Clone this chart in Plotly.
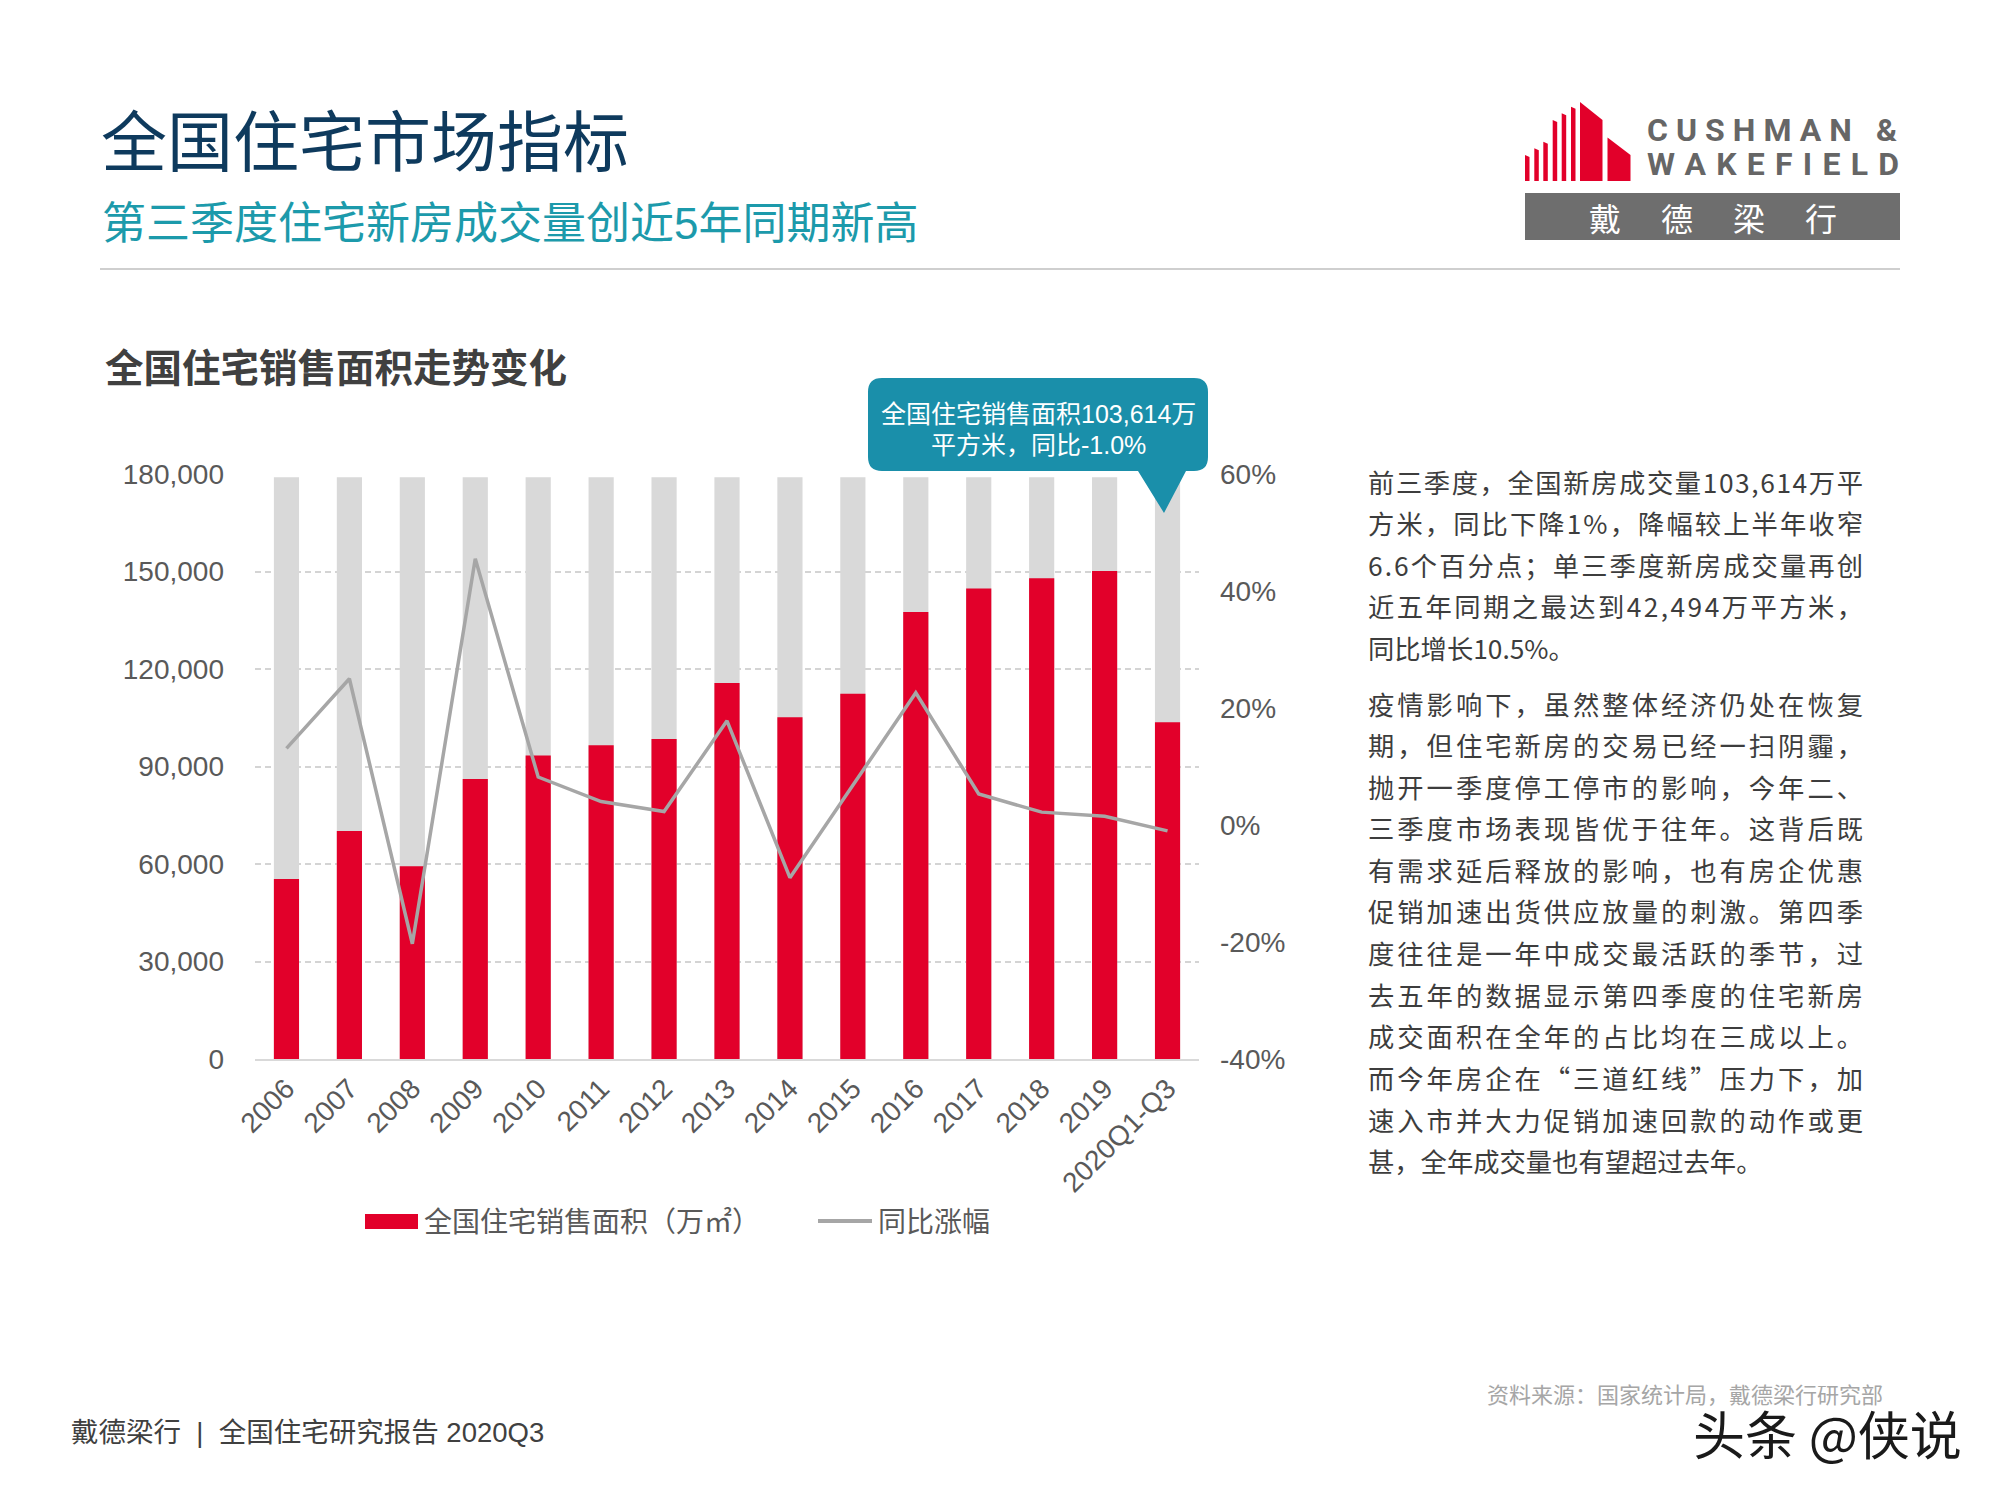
import json
import plotly.graph_objects as go

W, H = 2000, 1500

# ---------------- data ----------------
categories = ["2006", "2007", "2008", "2009", "2010", "2011", "2012", "2013",
              "2014", "2015", "2016", "2017", "2018", "2019", "2020Q1-Q3"]
sales_area = [55423, 70136, 59280, 86185, 93377, 96528, 98468, 115723,
              105188, 112412, 137540, 144789, 147929, 150144, 103614]
yoy_pct = [13.1, 25.0, -20.3, 45.5, 8.2, 4.0, 2.3, 17.8,
           -9.0, 6.9, 22.6, 5.3, 2.2, 1.5, -1.0]
track_level = [179000, 179000, 179000, 179000, 179000, 179000, 179000, 179000,
               179000, 179000, 179000, 179000, 179000, 179000, 179000]

left_tickvals = [0, 30000, 60000, 90000, 120000, 150000, 180000]
left_ticktext = ["0", "30,000", "60,000", "90,000", "120,000", "150,000", "180,000"]
right_tickvals = [-40, -20, 0, 20, 40, 60]
right_ticktext = ["-40%", "-20%", "0%", "20%", "40%", "60%"]

series_bar_name = "全国住宅销售面积（万㎡）"
series_line_name = "同比涨幅"

title_text = "全国住宅市场指标"
subtitle_text = "第三季度住宅新房成交量创近5年同期新高"
chart_title = "全国住宅销售面积走势变化"
callout_lines = ["全国住宅销售面积103,614万", "平方米，同比-1.0%"]
para1 = ["前三季度，全国新房成交量103,614万平",
         "方米，同比下降1%，降幅较上半年收窄",
         "6.6个百分点；单三季度新房成交量再创",
         "近五年同期之最达到42,494万平方米，",
         "同比增长10.5%。"]
para2 = ["疫情影响下，虽然整体经济仍处在恢复",
         "期，但住宅新房的交易已经一扫阴霾，",
         "抛开一季度停工停市的影响，今年二、",
         "三季度市场表现皆优于往年。这背后既",
         "有需求延后释放的影响，也有房企优惠",
         "促销加速出货供应放量的刺激。第四季",
         "度往往是一年中成交最活跃的季节，过",
         "去五年的数据显示第四季度的住宅新房",
         "成交面积在全年的占比均在三成以上。",
         "而今年房企在“三道红线”压力下，加",
         "速入市并大力促销加速回款的动作或更",
         "甚，全年成交量也有望超过去年。"]
footer_left = "戴德梁行  |  全国住宅研究报告 2020Q3"
source_text = "资料来源：国家统计局，戴德梁行研究部"
watermark = "头条 @侠说"

# ---------------- styles ----------------
RED = "#E2002A"
TRACK = "#D9D9D9"
LINE = "#A6A6A6"
TEAL = "#1A8FAA"
FONT = "Liberation Sans, Noto Sans CJK SC, sans-serif"
CJK = "Noto Sans CJK SC, sans-serif"
AXIS_TXT = "#595959"


def px(x):
    return x / W


def py(y):
    return 1 - y / H


def P(x, y):
    return f"{px(x):.5f},{py(y):.5f}"


fig = go.Figure()
fig.add_trace(go.Bar(x=categories, y=track_level, marker=dict(color=TRACK, line=dict(width=0)),
                     width=0.4, showlegend=False, hoverinfo="skip"))
fig.add_trace(go.Bar(x=categories, y=sales_area, name=series_bar_name,
                     marker=dict(color=RED, line=dict(width=0)), width=0.4, showlegend=False))
fig.add_trace(go.Scatter(x=categories, y=yoy_pct, yaxis="y2", mode="lines", name=series_line_name,
                         line=dict(color=LINE, width=3.5), showlegend=False))

x0, x1 = 255, 1199
ytop, ybot = 474, 1059

fig.update_layout(
    width=W, height=H, autosize=False, margin=dict(l=0, r=0, t=0, b=0, pad=0, autoexpand=False),
    paper_bgcolor="white", plot_bgcolor="white",
    barmode="overlay", showlegend=False,
    font=dict(family=FONT, color=AXIS_TXT),
    xaxis=dict(domain=[px(x0), px(x1)], type="category", range=[-0.5, 14.5],
               tickangle=-45, tickfont=dict(size=28, color=AXIS_TXT, family=FONT),
               showline=True, linecolor="#D9D9D9", linewidth=2, ticks="",
               showgrid=False, zeroline=False, fixedrange=True, automargin=False),
    yaxis=dict(domain=[py(ybot), py(ytop)], range=[0, 180000],
               tickvals=left_tickvals, ticktext=left_ticktext,
               tickfont=dict(size=28, color=AXIS_TXT, family=FONT),
               showgrid=True, gridcolor="#D4D4D4", griddash="6px,4px", gridwidth=2,
               zeroline=False, ticks="", ticklabelstandoff=30, fixedrange=True,
               automargin=False),
    yaxis2=dict(overlaying="y", side="right", range=[-40, 60],
                tickvals=right_tickvals, ticktext=right_ticktext,
                tickfont=dict(size=28, color=AXIS_TXT, family=FONT),
                showgrid=False, zeroline=False, ticks="", ticklabelstandoff=20,
                fixedrange=True, automargin=False),
)

shapes = []
annotations = []
justify = {}


def ann(text, x, y, size, color, xanchor="left", family=FONT, target=None, **kw):
    idx = len(annotations)
    annotations.append(dict(text=text, x=px(x), y=py(y), xref="paper", yref="paper",
                            xanchor=xanchor, yanchor="middle", showarrow=False,
                            align="left" if xanchor == "left" else "center",
                            borderpad=0,
                            font=dict(size=size, color=color, family=family), **kw))
    if target is not None:
        justify[str(idx)] = target


# ---- paragraphs (justified) ----
PL, PR = 1367, 1862
for k, line in enumerate(para1):
    ann(line, PL, 481 + k * 41.5, 26.3, "#3D3D3D", family=CJK,
        target=(PR - PL) if k < len(para1) - 1 else None)
for k, line in enumerate(para2):
    ann(line, PL, 703 + k * 41.6, 26.3, "#3D3D3D", family=CJK,
        target=(PR - PL) if k < len(para2) - 1 else None)

# ---- titles ----
ann(title_text, 100, 137, 66, "#0E3A5D", family=CJK)
ann(subtitle_text, 101, 224, 44, "#1C9AAB", family=FONT)
ann("<b>" + chart_title + "</b>", 104, 365, 38.5, "#404040", family=CJK)
shapes.append(dict(type="line", xref="paper", yref="paper", x0=px(100), x1=px(1900),
                   y0=py(269), y1=py(269), line=dict(color="#CFCFCF", width=2)))

# ---- callout ----
bl, br, bt, bb, r = 868, 1208, 378, 471, 14
tip_x, tip_y = 1164, 513
path = (f"M{P(bl + r, bt)} L{P(br - r, bt)} Q{P(br, bt)} {P(br, bt + r)} "
        f"L{P(br, bb - r)} Q{P(br, bb)} {P(br - r, bb)} "
        f"L{P(1186, bb)} L{P(tip_x, tip_y)} L{P(1138, bb)} "
        f"L{P(bl + r, bb)} Q{P(bl, bb)} {P(bl, bb - r)} "
        f"L{P(bl, bt + r)} Q{P(bl, bt)} {P(bl + r, bt)} Z")
shapes.append(dict(type="path", xref="paper", yref="paper", path=path,
                   fillcolor=TEAL, line=dict(width=0), layer="above"))
ann(callout_lines[0], 1038, 414, 25, "white", xanchor="center")
ann(callout_lines[1], 1038, 445, 25, "white", xanchor="center")

# ---- custom legend ----
shapes.append(dict(type="rect", xref="paper", yref="paper", x0=px(365), x1=px(418),
                   y0=py(1229), y1=py(1214), fillcolor=RED, line=dict(width=0)))
ann(series_bar_name, 423, 1222, 28, AXIS_TXT)
shapes.append(dict(type="line", xref="paper", yref="paper", x0=px(818), x1=px(872),
                   y0=py(1221), y1=py(1221), line=dict(color=LINE, width=4)))
ann(series_line_name, 877, 1222, 28, AXIS_TXT)

# ---- logo ----
logo_bars = [(1525, 1529.5, 155), (1534.3, 1538.8, 148.3), (1543.3, 1547.8, 141.7),
             (1552.7, 1557.2, 120), (1561.7, 1566.2, 113.3), (1571, 1575.5, 106.7)]
for a, b, t in logo_bars:
    shapes.append(dict(type="path", xref="paper", yref="paper",
                       path=f"M{P(a, 181)} L{P(a, t)} L{P(b, t + 2)} L{P(b, 181)} Z",
                       fillcolor=RED, line=dict(width=0)))
shapes.append(dict(type="path", xref="paper", yref="paper",
                   path=f"M{P(1580, 181)} L{P(1580, 102)} L{P(1602.5, 120)} L{P(1602.5, 181)} Z",
                   fillcolor=RED, line=dict(width=0)))
shapes.append(dict(type="path", xref="paper", yref="paper",
                   path=f"M{P(1607.5, 181)} L{P(1607.5, 137.5)} L{P(1630.5, 155)} L{P(1630.5, 181)} Z",
                   fillcolor=RED, line=dict(width=0)))
shapes.append(dict(type="rect", xref="paper", yref="paper", x0=px(1525), x1=px(1900),
                   y0=py(240), y1=py(193), fillcolor="#6E6E6E", line=dict(width=0)))
ann("<b>CUSHMAN &amp;</b>", 1646, 130, 32, "#666666", family="Roboto, Liberation Sans", target=250)
ann("<b>WAKEFIELD</b>", 1646, 164, 32, "#666666", family="Roboto, Liberation Sans", target=252)
ann("戴 德 梁 行", 1588, 217, 32, "white", family=CJK, target=248)

# ---- footer ----
ann(footer_left, 70, 1432, 27.5, "#404040")
ann(source_text, 1486, 1393, 22, "#A6A6A6", family=CJK)
ann(watermark, 1692, 1432, 52, "#1A1A1A", family=CJK)

fig.update_layout(shapes=shapes, annotations=annotations)

post_js = """
document.body.style.margin='0';
var gd=document.getElementById('{plot_id}');
var spec=%s;
gd.querySelectorAll('g.annotation').forEach(function(g){
  var i=g.getAttribute('data-index');
  if(spec.hasOwnProperty(i)){
    var t=g.querySelector('text.annotation-text');
    if(!t){return;}
    var L=t.getComputedTextLength();
    var n=t.textContent.length;
    if(n>1){t.style.letterSpacing=((spec[i]-L)/(n-1))+'px';}
  }
});
""" % json.dumps(justify)

fig.write_html("out.html", post_script=post_js, config={"displayModeBar": False})
